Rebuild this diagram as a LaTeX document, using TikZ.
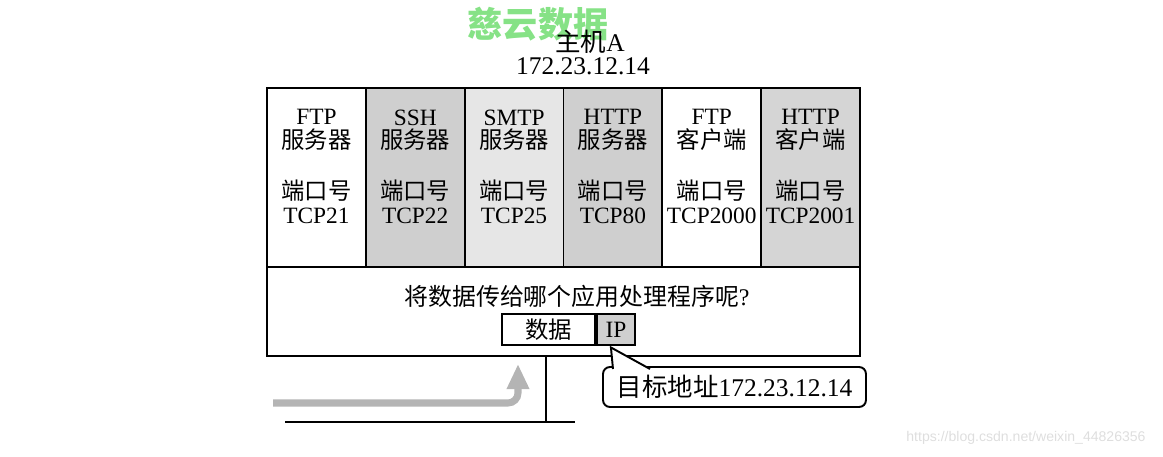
\documentclass[tikz,border=0pt]{standalone}
\usepackage{fontspec}
\setmainfont{Liberation Serif}
\newfontfamily\cjk{Noto Sans CJK SC}
\newfontfamily\urlfont{Liberation Sans}
\usetikzlibrary{arrows.meta}

\definecolor{markgreen}{HTML}{86E286}
\definecolor{cellA}{HTML}{CFCFCF}
\definecolor{cellB}{HTML}{E6E6E6}
\definecolor{cellC}{HTML}{D5D5D5}
\definecolor{flowgray}{HTML}{B4B4B4}

\begin{document}
\begin{tikzpicture}[
    x = 0.2mm,
    y = -0.2mm,
    line width = 1.1pt,
    cell/.style = {
      draw,
      minimum width = 19.77mm,
      minimum height = 35.8mm,
      inner sep = 0pt
    },
    txt/.style = {
      align = center,
      inner sep = 0pt,
      font = \fontsize{13.3}{13.4}\selectfont
    },
    box/.style = {
      draw,
      minimum height = 6.2mm,
      inner sep = 0pt,
      font = \fontsize{13.3}{13}\selectfont
    },
    flow/.style = {
      line width = 4pt,
      draw = flowgray,
      rounded corners = 2mm,
      -{Triangle[width=4.2mm,length=5mm]}
    }
  ]
\useasboundingbox (0,0) rectangle (1163,457);

% watermarks
\node[font=\cjk\bfseries\fontsize{20}{20}\selectfont, text=markgreen] (mark) at (538,24) {慈云数据};
\node[font=\urlfont\fontsize{8}{8}\selectfont, text=black!13] (url) at (1026,438) {https://blog.csdn.net/weixin\_44826356};

% host
\node[txt, font=\fontsize{14.5}{14}\selectfont] (host) at (590,42) {{\cjk 主机}A};
\node[txt, font=\fontsize{14.5}{14}\selectfont] (addr) at (583,66) {172.23.12.14};

% applications
\foreach \i/\prog/\role/\port/\shade in {0/FTP/服务器/21/white, 1/SSH/服务器/22/cellA, 2/SMTP/服务器/25/cellB, 3/HTTP/服务器/80/cellA, 4/FTP/客户端/2000/white, 5/HTTP/客户端/2001/cellC}
{
  \node[cell, fill=\shade] (cell\i) at ({316.4+98.83*\i},177.5) {};
  \node[txt] (prog\i) at ({316.4+98.83*\i},130) {\prog\\{\cjk\role}};
  \node[txt] (port\i) at ({316.4+98.83*\i},202) {{\cjk 端口号}\\TCP\port};
}

% ip layer
\node[cell, minimum width=118.6mm, minimum height=17.8mm] (layer) at (563.5,311.5) {};
\node[txt, font=\fontsize{13.6}{13}\selectfont] (ask) at (577,296) {{\cjk 将数据传给哪个应用处理程序呢}?};

\node[box, fill=white, minimum width=18.6mm] (data) at (548.5,329.5) {\cjk 数据};
\node[box, fill=cellA, minimum width=7.6mm, anchor=west] (ip) at (data.east) {IP};

% network
\coordinate (netL) at (285,422);
\coordinate (netR) at (575,422);
\coordinate (tap) at (546,422);
\draw[line width=1.5pt] (netL) -- (netR);
\draw (layer.south -| tap) -- (tap);

\coordinate (flowS) at (273,403);
\coordinate (flowE) at (518,364);
\draw[flow] (flowS) -- (flowS -| flowE) -- (flowE);

% destination
\node[draw, fill=white, rounded corners=1.4mm, minimum width=52.6mm, minimum height=8mm, inner sep=0pt,
      font=\fontsize{14.5}{14}\selectfont] (dest) at (734.5,387) {{\cjk 目标地址}172.23.12.14};
\coordinate (tip) at ([xshift=-1mm,yshift=-0.3mm]ip.south);
\draw[fill=white] (613,369) -- (tip) -- (650,369);

\end{tikzpicture}
\end{document}
